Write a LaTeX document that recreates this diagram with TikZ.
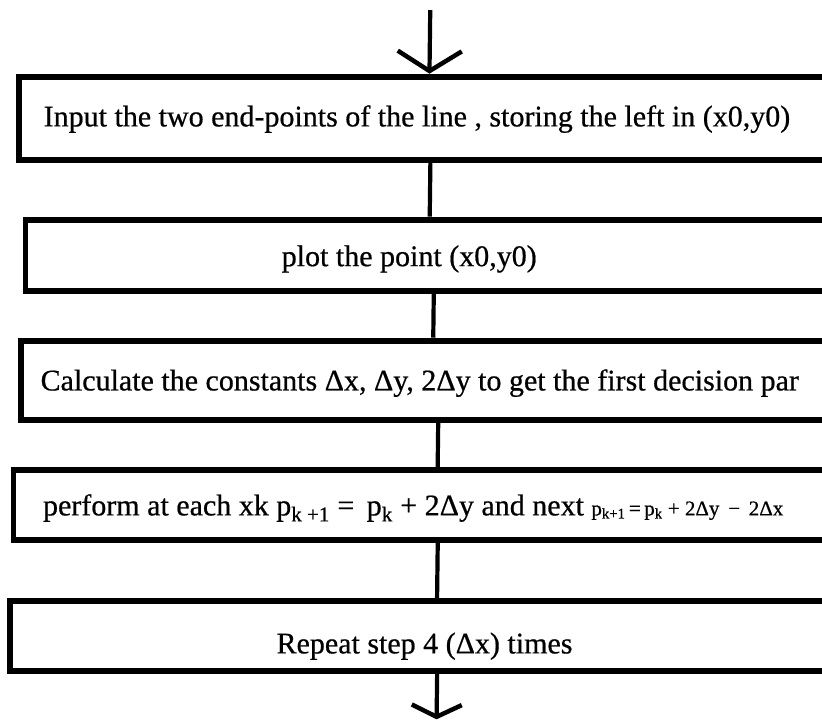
\documentclass[tikz,border=0pt]{standalone}
\usepackage{fontspec}
\setmainfont{Liberation Serif}
\newfontfamily\scanfont[FakeBold=0.6]{Liberation Serif}
\usetikzlibrary{arrows.meta}
\begin{document}
\begin{tikzpicture}[x=1pt,y=-1pt,
  box/.style={draw=black,line width=5.5pt,rectangle,inner sep=0pt,anchor=north west,minimum width=900pt},
  txt/.style={font=\scanfont\fontsize{30}{32}\selectfont,inner sep=0pt},
  conn/.style={draw=black,line width=4.2pt}]
\useasboundingbox (0,0) rectangle (822,721);
\clip (0,0) rectangle (822,721);
\fill[white] (0,0) rectangle (822,721);
\begin{scope}[rotate around={-0.7:(411,360)}]
% boxes
\node[box,minimum height=83pt] (b1) at (13,79) {};
\node[box,minimum height=71pt] (b2) at (21,222) {};
\node[box,minimum height=79pt] (b3) at (18,343) {};
\node[box,minimum height=70pt] (b4) at (12,472) {};
\node[box,minimum height=70pt] (b5) at (10,603) {};
% texts
\node[txt] (t1) at (414,119) {Input the two end-points of the line , storing the left in (x0,y0)};
\node[txt] (t2) at (408,259) {plot the point (x0,y0)};
\node[txt] (t3) at (420,383) {Calculate the constants Δx, Δy, 2Δy to get the first decision par};
\node[txt] (t4) at (415,508) {perform at each xk p\textsubscript{k +1} =\, p\textsubscript{k} + 2Δy and next {\fontsize{21}{22}\selectfont p\textsubscript{k+1}\,=\,p\textsubscript{k} + 2Δy \,−\, 2Δx}};
\node[txt] (t5) at (428,646) {Repeat step 4 (Δx) times};
% connector x positions
\coordinate (c0) at (426,10);
\coordinate (c1) at (428,0);
\coordinate (c2) at (433,0);
\coordinate (c3) at (439,0);
\coordinate (c4) at (440,0);
\coordinate (c5) at (441,719);
\draw[conn,-{Straight Barb[length=20pt,width=64pt,line width=4.5pt]}] (c0) -- (c0 |- b1.north);
\draw[conn] (c1 |- b1.south) -- (c1 |- b2.north);
\draw[conn] (c2 |- b2.south) -- (c2 |- b3.north);
\draw[conn] (c3 |- b3.south) -- (c3 |- b4.north);
\draw[conn] (c4 |- b4.south) -- (c4 |- b5.north);
\draw[conn,-{Straight Barb[length=12pt,width=50pt,line width=4.5pt]}] (c5 |- b5.south) -- (c5);
\end{scope}
\end{tikzpicture}
\end{document}
